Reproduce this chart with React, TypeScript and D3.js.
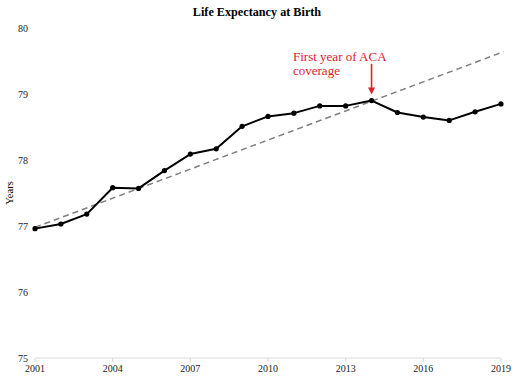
import React from "react";
import * as d3 from "d3";

const years = [2001, 2002, 2003, 2004, 2005, 2006, 2007, 2008, 2009, 2010, 2011, 2012, 2013, 2014, 2015, 2016, 2017, 2018, 2019];
const lifeExpectancy = [76.96, 77.03, 77.18, 77.58, 77.57, 77.84, 78.09, 78.17, 78.51, 78.66, 78.71, 78.82, 78.82, 78.9, 78.72, 78.65, 78.6, 78.73, 78.85];
const trendYears = [2001, 2019.1];
const trendValues = [76.98, 79.64];
const xTicks = [2001, 2004, 2007, 2010, 2013, 2016, 2019];
const yTicks = [75, 76, 77, 78, 79, 80];
const annotationYear = 2014;
const annotationLines = ["First year of ACA", "coverage"];

const W = 512;
const H = 378;
const FONT = "'Liberation Serif', 'Times New Roman', serif";
const RED = "#e0202a";

export default function App() {
  const x = d3.scaleLinear().domain([2001, 2019]).range([35, 501]);
  const y = d3.scaleLinear().domain([75, 80]).range([358, 28]);
  const line = d3
    .line<number>()
    .x((_, i) => x(years[i]))
    .y((d) => y(d));
  const trend = d3
    .line<number>()
    .x((_, i) => x(trendYears[i]))
    .y((d) => y(d));
  const ax = x(annotationYear);
  const annIdx = years.indexOf(annotationYear);
  const arrowEnd = y(lifeExpectancy[annIdx]) - 6;

  return (
    <svg
      width={W}
      height={H}
      style={{ position: "absolute", left: 0, top: 0, background: "#fff" }}
      fontFamily={FONT}
    >
      <text x={257} y={16} textAnchor="middle" fontSize={12.2} fontWeight="bold" fill="#000">
        Life Expectancy at Birth
      </text>
      {yTicks.map((t) => (
        <text key={t} x={28} y={y(t)} dy="0.35em" textAnchor="end" fontSize={10} fill="#222">
          {t}
        </text>
      ))}
      <text
        transform={`translate(13,193) rotate(-90)`}
        textAnchor="middle"
        fontSize={10.5}
        fill="#000"
      >
        Years
      </text>
      <line x1={x(2001)} x2={x(2019)} y1={y(75)} y2={y(75)} stroke="#d9d9d9" strokeWidth={1} />
      {xTicks.map((t) => (
        <g key={t}>
          <line x1={x(t)} x2={x(t)} y1={y(75)} y2={y(75) + 4} stroke="#d9d9d9" strokeWidth={1} />
          <text x={x(t)} y={372} textAnchor="middle" fontSize={10} fill="#222">
            {t}
          </text>
        </g>
      ))}
      <path
        d={trend(trendValues) || ""}
        fill="none"
        stroke="#808080"
        strokeWidth={1.5}
        strokeDasharray="6,4"
      />
      <path d={line(lifeExpectancy) || ""} fill="none" stroke="#000" strokeWidth={2} strokeLinejoin="round" />
      {lifeExpectancy.map((v, i) => (
        <circle key={years[i]} cx={x(years[i])} cy={y(v)} r={2.6} fill="#000" />
      ))}
      {annotationLines.map((l, i) => (
        <text key={l} x={293} y={61 + i * 14} fontSize={13} fill={RED}>
          {l}
        </text>
      ))}
      <line x1={ax} x2={ax} y1={64} y2={arrowEnd - 5} stroke={RED} strokeWidth={1.6} />
      <path
        d={`M${ax - 3.5},${arrowEnd - 7} L${ax + 3.5},${arrowEnd - 7} L${ax},${arrowEnd} Z`}
        fill={RED}
      />
    </svg>
  );
}
